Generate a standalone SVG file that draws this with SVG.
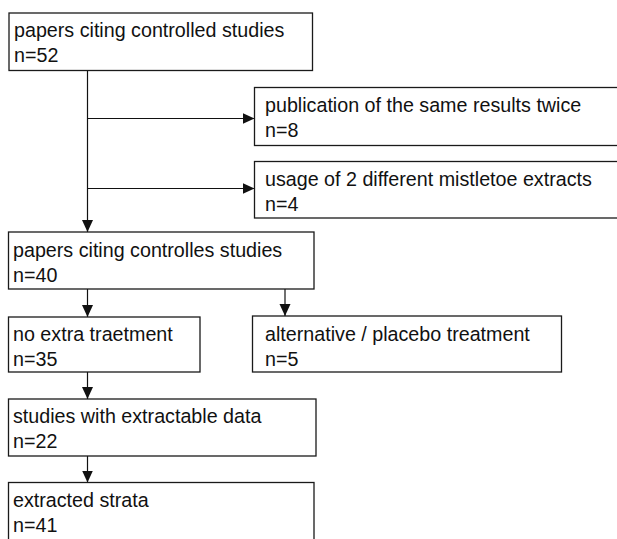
<svg xmlns="http://www.w3.org/2000/svg" width="617" height="539" viewBox="0 0 617 539">
<style>
.box{fill:#fff;stroke:#1a1a1a;stroke-width:1.3}
.t{font-family:"Liberation Sans",Arial,sans-serif;font-size:19.7px;fill:#111}
.c{fill:none;stroke:#111;stroke-width:1.2}
</style>
<defs>
<marker id="ah" markerUnits="userSpaceOnUse" markerWidth="12" markerHeight="12" viewBox="0 0 12 12" refX="12" refY="6" orient="auto">
<path d="M0,0.5 L12,6 L0,11.5 Z" fill="#111"/>
</marker>
</defs>
<rect width="617" height="539" fill="#fff"/>
<g id="connectors">
<path class="c" d="M87.5,70.5 V232" marker-end="url(#ah)"/>
<path class="c" d="M87.5,118.5 H254.5" marker-end="url(#ah)"/>
<path class="c" d="M87.5,188.5 H254.5" marker-end="url(#ah)"/>
<path class="c" d="M87.5,289 V317" marker-end="url(#ah)"/>
<path class="c" d="M285,289 V316" marker-end="url(#ah)"/>
<path class="c" d="M87.5,372 V399" marker-end="url(#ah)"/>
<path class="c" d="M87.5,456 V482.5" marker-end="url(#ah)"/>
</g>
<g id="n1">
<rect class="box" x="9" y="13" width="303.5" height="57.5"/>
<text class="t" x="14" y="37">papers citing controlled studies</text>
<text class="t" x="14" y="62">n=52</text>
</g>
<g id="n2">
<rect class="box" x="254.5" y="87.5" width="370" height="58"/>
<text class="t" x="265" y="112">publication of the same results twice</text>
<text class="t" x="265" y="137">n=8</text>
</g>
<g id="n3">
<rect class="box" x="254.5" y="161.5" width="370" height="56.5"/>
<text class="t" x="265" y="186">usage of 2 different mistletoe extracts</text>
<text class="t" x="265" y="211">n=4</text>
</g>
<g id="n4">
<rect class="box" x="8.5" y="232" width="305.5" height="57"/>
<text class="t" x="13" y="257">papers citing controlles studies</text>
<text class="t" x="13" y="282">n=40</text>
</g>
<g id="n5">
<rect class="box" x="8.5" y="317" width="191.5" height="55"/>
<text class="t" x="13" y="341">no extra traetment</text>
<text class="t" x="13" y="366">n=35</text>
</g>
<g id="n6">
<rect class="box" x="252.5" y="316" width="309" height="56"/>
<text class="t" x="265" y="341">alternative / placebo treatment</text>
<text class="t" x="265" y="366">n=5</text>
</g>
<g id="n7">
<rect class="box" x="8.5" y="399" width="307.5" height="57"/>
<text class="t" x="13" y="423">studies with extractable data</text>
<text class="t" x="13" y="448">n=22</text>
</g>
<g id="n8">
<rect class="box" x="8.5" y="482.5" width="305.5" height="70"/>
<text class="t" x="13" y="507">extracted strata</text>
<text class="t" x="13" y="532">n=41</text>
</g>
</svg>
